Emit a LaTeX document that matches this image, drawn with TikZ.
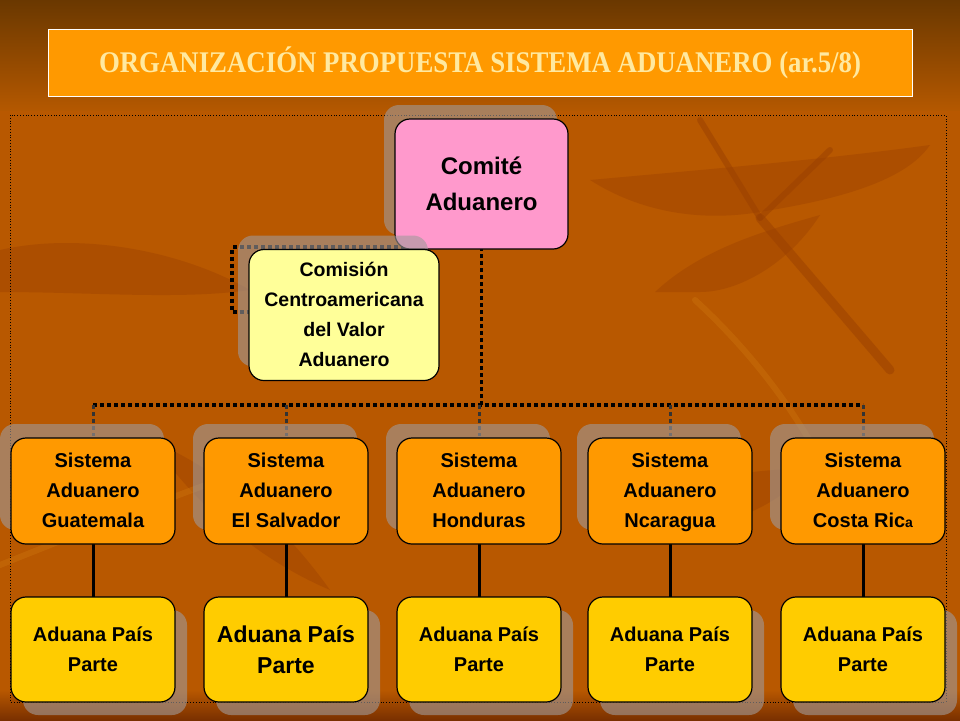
\documentclass[tikz,border=0pt]{standalone}
\usepackage{fontspec}
\setmainfont{Liberation Sans}
\newfontfamily\titlefont{Liberation Serif}
\usetikzlibrary{shadows}
\definecolor{bgmain}{HTML}{B85800}
\definecolor{bgtop}{HTML}{6A3800}
\definecolor{bgmid}{HTML}{B45800}
\definecolor{bgbot}{HTML}{7A3000}
\definecolor{leaf}{HTML}{9A4000}
\definecolor{leaflight}{HTML}{D07A10}
\definecolor{titlefill}{HTML}{FF9900}
\definecolor{titletext}{HTML}{FFE9A0}
\definecolor{pinkbox}{HTML}{FF99CC}
\definecolor{paleyellow}{HTML}{FFFF99}
\definecolor{orangebox}{HTML}{FF9900}
\definecolor{goldbox}{HTML}{FFCC00}
\definecolor{shadowgrey}{HTML}{A09A9A}
\tikzset{
  box/.style={draw=black, line width=1.2pt, rounded corners=15pt, align=center,
    font=\bfseries, text=black, inner sep=2pt},
  shadowUL/.style={general shadow={fill=shadowgrey, opacity=0.6, shadow xshift=-11pt, shadow yshift=14pt}},
  shadowDR/.style={general shadow={fill=shadowgrey, opacity=0.6, shadow xshift=12pt, shadow yshift=-13pt}},
  sysbox/.style={box, shadowUL, fill=orangebox, minimum width=164pt, minimum height=106pt,
    font=\bfseries\fontsize{20}{30}\selectfont},
  adubox/.style={box, shadowDR, fill=goldbox, minimum width=164pt, minimum height=105pt,
    font=\bfseries\fontsize{20}{30}\selectfont},
  busline/.style={line width=3.5pt, dash pattern=on 4pt off 3pt, black},
  dropline/.style={line width=3pt, dash pattern=on 4pt off 3pt, black!80},
  solidline/.style={line width=3pt, black},
  leafshape/.style={fill=leaf, opacity=0.4, draw=none},
  stem/.style={draw=leaf, opacity=0.5, line width=9pt, line cap=round},
}
\begin{document}
\begin{tikzpicture}[x=1pt, y=-1pt]
\useasboundingbox (0,0) rectangle (960,720);
% background
\fill[bgmain] (0,0) rectangle (960,720);
\shade[top color=bgtop, bottom color=bgmid] (0,0) rectangle (960,110);
\shade[top color=bgmain, bottom color=bgbot] (0,690) rectangle (960,720);
% leaves (background)
\fill[leafshape] (590,180) .. controls (700,170) and (820,160) .. (930,145) .. controls (900,190) and (800,205) .. (760,212) .. controls (700,222) and (640,212) .. (590,180);
\fill[leafshape] (655,292) .. controls (700,250) and (760,232) .. (820,215) .. controls (790,262) and (740,292) .. (700,292) -- cycle;
\fill[leafshape] (0,250) .. controls (80,232) and (180,250) .. (250,290) .. controls (180,300) and (90,292) .. (0,292) -- cycle;
\fill[leafshape] (600,520) .. controls (660,482) and (740,470) .. (810,468) .. controls (770,520) and (680,540) .. (600,540) -- cycle;
\fill[leafshape] (150,440) .. controls (220,470) and (280,520) .. (330,590) .. controls (260,560) and (200,510) .. (150,440);
\draw[stem] (760,218) -- (890,370);
\draw[stem, line width=6pt] (830,150) -- (760,218);
\draw[stem, line width=6pt] (700,120) -- (760,218);
\draw[leaflight, opacity=0.35, line width=6pt, line cap=round] (0,565) .. controls (100,525) and (200,485) .. (300,452);
\draw[leaflight, opacity=0.35, line width=6pt, line cap=round] (695,300) .. controls (760,360) and (800,420) .. (826,470);
% outer dotted frame
\draw[black, line width=0.8pt, dotted] (10,115) rectangle (946,702);
% title
\node[draw=white, line width=1pt, fill=titlefill, minimum width=864pt, minimum height=67pt, inner sep=0pt] (titlebox) at (480,62.5) {};
\node[inner sep=0pt, text=titletext] (title) at (480,63) {\titlefont\bfseries\fontsize{30}{32}\selectfont\resizebox{762pt}{\height}{ORGANIZACIÓN PROPUESTA SISTEMA ADUANERO (ar.5/8)}};
% coordinates for connectors
\coordinate (busy) at (0,405);
\coordinate (leftx) at (232,0);
\coordinate (comsouth) at (481.5,247);
% connectors (drawn behind boxes)
\draw[busline] (comsouth) -- (comsouth |- busy);
\draw[busline] (comsouth) -- (comsouth -| leftx) -- (leftx |- 0,312) -- (249,312);
\draw[busline] (93,405) -- (863,405);
\foreach \i/\x in {1/93,2/286,3/479,4/670,5/863}{
  \draw[dropline] (\x,405) -- (\x,436);
  \draw[solidline] (\x,542) -- (\x,597);
}
% boxes
\node[box, shadowUL, fill=pinkbox, minimum width=173pt, minimum height=130pt,
  font=\bfseries\fontsize{24}{36}\selectfont] (comite) at (481.5,184) {Comité\\Aduanero};
\node[box, shadowUL, fill=paleyellow, minimum width=190pt, minimum height=131pt,
  font=\bfseries\fontsize{19.5}{30}\selectfont] (comision) at (344,315) {\strut Comisión\\Centroamericana\\del Valor\\Aduanero\strut};
\node[sysbox] (s1) at (93,491) {\strut Sistema\\Aduanero\\Guatemala\strut};
\node[sysbox] (s2) at (286,491) {\strut Sistema\\Aduanero\\El Salvador\strut};
\node[sysbox] (s3) at (479,491) {\strut Sistema\\Aduanero\\Honduras\strut};
\node[sysbox] (s4) at (670,491) {\strut Sistema\\Aduanero\\Ncaragua\strut};
\node[sysbox] (s5) at (863,491) {\strut Sistema\\Aduanero\\Costa Ric{\fontsize{14}{30}\selectfont a}\strut};
\node[adubox] (a1) at (93,649.5) {Aduana País\\Parte};
\node[adubox, font=\bfseries\fontsize{23}{31}\selectfont] (a2) at (286,649.5) {Aduana País\\Parte};
\node[adubox] (a3) at (479,649.5) {Aduana País\\Parte};
\node[adubox] (a4) at (670,649.5) {Aduana País\\Parte};
\node[adubox] (a5) at (863,649.5) {Aduana País\\Parte};
\end{tikzpicture}
\end{document}
